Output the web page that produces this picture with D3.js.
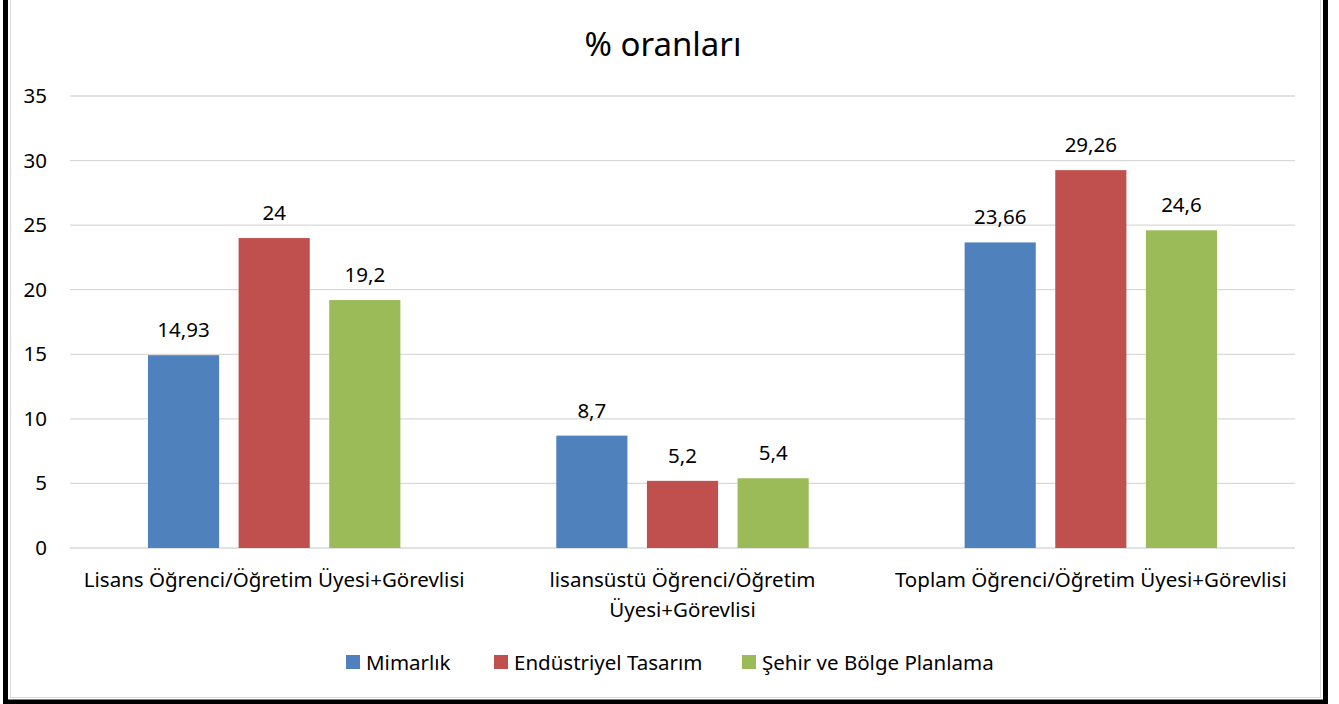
<!DOCTYPE html>
<html>
<head>
<meta charset="utf-8">
<script src="https://cdn.jsdelivr.net/npm/d3@7/dist/d3.min.js"></script>
<style>
  html, body { margin: 0; padding: 0; background: #fff; }
  text { font-family: "Noto Sans", "Open Sans", sans-serif; fill: #000; }
</style>
</head>
<body>
<div id="chart"></div>
<script>
// Chart data
const categories = [
  "Lisans Öğrenci/Öğretim Üyesi+Görevlisi",
  "lisansüstü Öğrenci/Öğretim Üyesi+Görevlisi",
  "Toplam Öğrenci/Öğretim Üyesi+Görevlisi"
];
const seriesNames = ["Mimarlık", "Endüstriyel Tasarım", "Şehir ve Bölge Planlama"];
const mimarlik = [14.93, 8.7, 23.66];
const endustriyel = [24, 5.2, 29.26];
const sehir = [19.2, 5.4, 24.6];
const valueLabels = [
  ["14,93", "8,7", "23,66"],
  ["24", "5,2", "29,26"],
  ["19,2", "5,4", "24,6"]
];
const yTicks = [0, 5, 10, 15, 20, 25, 30, 35];
const colors = ["#4F81BD", "#C0504D", "#9BBB59"];

const seriesValues = [mimarlik, endustriyel, sehir];

const fullWidth = 1339;
const fullHeight = 704;
const margin = { top: 96, right: 44, bottom: 156, left: 70 };

const svg = d3.select("#chart")
  .append("svg")
  .attr("width", fullWidth)
  .attr("height", fullHeight);

// thin grey chart-area border
svg.append("rect")
  .attr("x", 10.5).attr("y", -10)
  .attr("width", 1310).attr("height", 707.5)
  .attr("fill", "none")
  .attr("stroke", "#d9d9d9")
  .attr("stroke-width", 1);

// outer frame (black border, top edge cut off)
svg.append("rect")
  .attr("x", 5.5).attr("y", -10)
  .attr("width", 1320).attr("height", 712)
  .attr("fill", "none")
  .attr("stroke", "#000")
  .attr("stroke-width", 5);

// Scales
const x0 = d3.scaleBand()
  .domain(categories)
  .range([margin.left, fullWidth - margin.right]);

const x1 = d3.scaleBand()
  .domain(seriesNames)
  .range([0, x0.bandwidth()])
  .paddingInner(0.215)
  .paddingOuter(0.86);

const y = d3.scaleLinear()
  .domain([0, 35])
  .range([fullHeight - margin.bottom, margin.top]);

// Gridlines
svg.append("g")
  .selectAll("line")
  .data(yTicks)
  .join("line")
  .attr("x1", margin.left)
  .attr("x2", fullWidth - margin.right)
  .attr("y1", d => y(d))
  .attr("y2", d => y(d))
  .attr("stroke", "#d9d9d9")
  .attr("stroke-width", 1.3);

// Y axis labels
const yAxis = svg.append("g")
  .attr("transform", `translate(${margin.left - 23},0)`)
  .call(d3.axisLeft(y).tickValues(yTicks).tickSize(0).tickPadding(0));
yAxis.select(".domain").remove();
yAxis.selectAll("text")
  .style("font-size", "20.5px")
  .style("font-family", "'Noto Sans', sans-serif")
  .attr("fill", "#000");

// Title
svg.append("text")
  .attr("x", 663)
  .attr("y", 56)
  .attr("text-anchor", "middle")
  .style("font-size", "33px")
  .text("% oranları");

// Bars
const groups = svg.append("g")
  .selectAll("g")
  .data(seriesNames)
  .join("g")
  .attr("fill", (d, i) => colors[i]);

groups.selectAll("rect")
  .data((s, si) => categories.map((c, ci) => ({ s, si, c, ci, v: seriesValues[si][ci] })))
  .join("rect")
  .attr("x", d => x0(d.c) + x1(d.s))
  .attr("y", d => y(d.v))
  .attr("width", x1.bandwidth())
  .attr("height", d => y(0) - y(d.v));

// Data labels
groups.selectAll("text")
  .data((s, si) => categories.map((c, ci) => ({ s, si, c, ci, v: seriesValues[si][ci] })))
  .join("text")
  .attr("x", d => x0(d.c) + x1(d.s) + x1.bandwidth() / 2)
  .attr("y", d => y(d.v) - 18)
  .attr("text-anchor", "middle")
  .style("font-size", "20.5px")
  .text(d => valueLabels[d.si][d.ci]);

// Category labels with wrapping
const catG = svg.append("g");
categories.forEach(c => {
  const cx = x0(c) + x0.bandwidth() / 2;
  const t = catG.append("text")
    .attr("x", cx)
    .attr("y", y(0) + 39)
    .attr("text-anchor", "middle")
    .style("font-size", "20.5px");
  const words = c.split(" ");
  let line = [];
  let tspan = t.append("tspan").attr("x", cx).attr("dy", 0);
  words.forEach(w => {
    line.push(w);
    tspan.text(line.join(" "));
    if (tspan.node().getComputedTextLength() > x0.bandwidth() - 3 && line.length > 1) {
      line.pop();
      tspan.text(line.join(" "));
      line = [w];
      tspan = t.append("tspan")
        .attr("x", cx)
        .attr("dy", 30)
        .text(w);
    }
  });
});

// Legend
const legendX = [346, 494, 742];
const legend = svg.append("g")
  .selectAll("g")
  .data(seriesNames)
  .join("g")
  .attr("transform", (d, i) => `translate(${legendX[i]},662)`);

legend.append("rect")
  .attr("x", 0).attr("y", -7)
  .attr("width", 14).attr("height", 14)
  .attr("fill", (d, i) => colors[i]);

legend.append("text")
  .attr("x", 20)
  .attr("y", 7.5)
  .style("font-size", "20.5px")
  .text(d => d);
</script>
</body>
</html>
